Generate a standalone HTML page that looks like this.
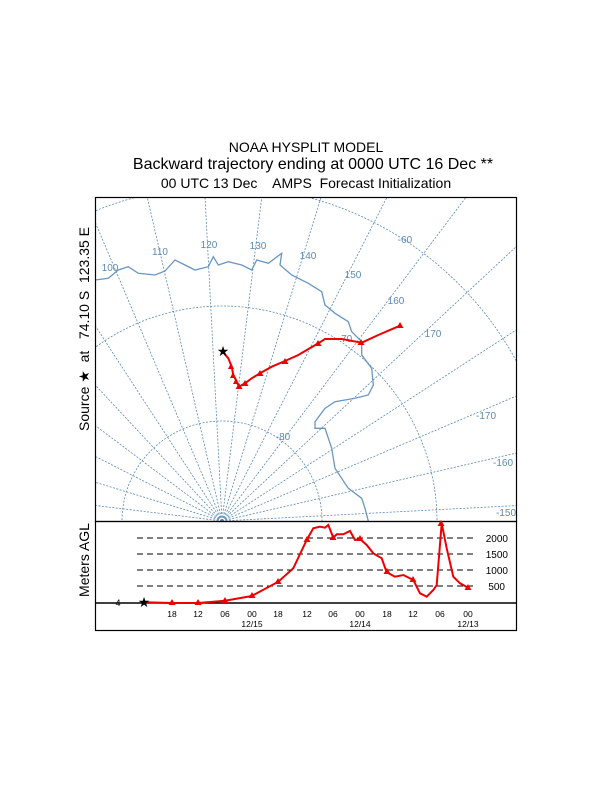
<!DOCTYPE html>
<html><head><meta charset="utf-8"><style>html,body{margin:0;padding:0;background:#fff;width:612px;height:792px;overflow:hidden}svg{display:block}</style></head>
<body>
<svg width="612" height="792" viewBox="0 0 612 792" xmlns="http://www.w3.org/2000/svg" font-family="Liberation Sans, sans-serif">
<defs>
<clipPath id="mc"><rect x="96" y="198" width="420" height="323"/></clipPath>
</defs>
<text x="306" y="152" font-size="14" text-anchor="middle">NOAA HYSPLIT MODEL</text>
<text x="313" y="169" font-size="16" text-anchor="middle">Backward trajectory ending at 0000 UTC 16 Dec **</text>
<text x="306" y="188" font-size="14" text-anchor="middle" xml:space="preserve">00 UTC 13 Dec    AMPS  Forecast Initialization</text>
<text transform="translate(89,329) rotate(-90)" font-size="14" text-anchor="middle" xml:space="preserve">Source ★  at   74.10 S  123.35 E</text>
<text transform="translate(89,560) rotate(-90)" font-size="14" text-anchor="middle">Meters AGL</text>

<g clip-path="url(#mc)" stroke="#5b8ab5" fill="none" stroke-width="0.8" stroke-dasharray="2,1.5">
<circle cx="222" cy="521" r="100"/><circle cx="222" cy="521" r="215"/><circle cx="222" cy="521" r="335"/><circle cx="222" cy="521" r="460"/>
<g>
<line x1="222" y1="521" x2="222" y2="-100" transform="rotate(-113 222 521)"/>
<line x1="222" y1="521" x2="222" y2="-100" transform="rotate(-103 222 521)"/>
<line x1="222" y1="521" x2="222" y2="-100" transform="rotate(-93 222 521)"/>
<line x1="222" y1="521" x2="222" y2="-100" transform="rotate(-83 222 521)"/>
<line x1="222" y1="521" x2="222" y2="-100" transform="rotate(-73 222 521)"/>
<line x1="222" y1="521" x2="222" y2="-100" transform="rotate(-63 222 521)"/>
<line x1="222" y1="521" x2="222" y2="-100" transform="rotate(-53 222 521)"/>
<line x1="222" y1="521" x2="222" y2="-100" transform="rotate(-43 222 521)"/>
<line x1="222" y1="521" x2="222" y2="-100" transform="rotate(-33 222 521)"/>
<line x1="222" y1="521" x2="222" y2="-100" transform="rotate(-23 222 521)"/>
<line x1="222" y1="521" x2="222" y2="-100" transform="rotate(-13 222 521)"/>
<line x1="222" y1="521" x2="222" y2="-100" transform="rotate(-3 222 521)"/>
<line x1="222" y1="521" x2="222" y2="-100" transform="rotate(7 222 521)"/>
<line x1="222" y1="521" x2="222" y2="-100" transform="rotate(17 222 521)"/>
<line x1="222" y1="521" x2="222" y2="-100" transform="rotate(27 222 521)"/>
<line x1="222" y1="521" x2="222" y2="-100" transform="rotate(37 222 521)"/>
<line x1="222" y1="521" x2="222" y2="-100" transform="rotate(47 222 521)"/>
<line x1="222" y1="521" x2="222" y2="-100" transform="rotate(57 222 521)"/>
<line x1="222" y1="521" x2="222" y2="-100" transform="rotate(67 222 521)"/>
<line x1="222" y1="521" x2="222" y2="-100" transform="rotate(77 222 521)"/>
<line x1="222" y1="521" x2="222" y2="-100" transform="rotate(87 222 521)"/>
<line x1="222" y1="521" x2="222" y2="-100" transform="rotate(97 222 521)"/>
<line x1="222" y1="521" x2="222" y2="-100" transform="rotate(107 222 521)"/>
</g>
<polyline stroke-dasharray="none" stroke-width="1.3" stroke="#6a96c0" points="95,280 108.3,278.3 118.3,270 128.3,266.7 138.3,273.3 155,275 165,271 175,260 185,265 195,270 208.3,266.7 213.3,256.7 218.3,265 228.3,261.7 241.7,265 251.7,270 256.7,260 268.3,263.3 281.7,253.3 280,265 291.7,275 308.3,283.3 321.7,291.7 325,305 335,313.3 348.3,321.7 351.7,331.7 361.7,341.7 361.7,355 371.7,368.3 373.3,385 368.3,395 355,398.3 335,401.7 325,408.3 315,421.7 315,428.3 325,428.3 331.7,448.3 335,468.3 348.3,488.3 361.7,498.3 365,508.3 368.3,521"/>
</g>
<g fill="#5b8ab5" font-size="10" text-anchor="middle">
<text x="110" y="271">100</text><text x="160" y="255">110</text><text x="209" y="248">120</text><text x="258" y="249">130</text><text x="308" y="259">140</text><text x="353" y="278">150</text><text x="396" y="304">160</text><text x="433" y="337">170</text><text x="405" y="243">-60</text><text x="345" y="342">-70</text><text x="283" y="440">-80</text><text x="486" y="419">-170</text><text x="503" y="466">-160</text><text x="506" y="516">-150</text>
</g>
<polyline fill="none" stroke="#e00" stroke-width="2" points="222.7,351.7 228.3,358.3 231.7,366.7 233.3,375 236.7,381.7 239,386.7 245,383.3 251.7,378.3 260,373.3 271.7,366.7 285,361 298.3,355 318.3,343.3 325,339 341.7,339 361.7,342.7 378.3,335 400,325.7"/>
<g fill="#e00">
<path d="M231,363l3,6h-6z"/><path d="M233,372l3,6h-6z"/><path d="M236,378l3,6h-6z"/><path d="M239,383l3.5,6h-7z"/><path d="M245,380l3.5,6h-7z"/><path d="M260,370l3.5,6h-7z"/><path d="M285,358l3.5,6h-7z"/><path d="M318,340l3.5,6h-7z"/><path d="M361,339l3.5,6h-7z"/><path d="M400,322l3.5,6h-7z"/>
</g>
<text x="223" y="356" font-size="14" text-anchor="middle">★</text>
<rect x="95.5" y="197.5" width="421" height="324" fill="none" stroke="#000" stroke-width="1.2"/>

<rect x="95.5" y="521.5" width="421" height="109" fill="none" stroke="#000" stroke-width="1.2"/>
<line x1="95" y1="603" x2="516" y2="603" stroke="#000" stroke-width="1.5"/>
<g stroke="#000" stroke-dasharray="6,4" stroke-width="0.9">
<line x1="137" y1="538" x2="476" y2="538"/><line x1="137" y1="554" x2="476" y2="554"/><line x1="137" y1="570" x2="476" y2="570"/><line x1="137" y1="586" x2="476" y2="586"/>
</g>
<g font-size="10" text-anchor="end"><text x="508" y="542">2000</text><text x="508" y="558">1500</text><text x="508" y="574">1000</text><text x="505" y="590">500</text></g>
<text x="118" y="606" font-size="9" text-anchor="middle">4</text>
<g font-size="8.5" text-anchor="middle">
<text x="172" y="617">18</text><text x="198" y="617">12</text><text x="225" y="617">06</text><text x="252" y="617">00</text><text x="278" y="617">18</text><text x="307" y="617">12</text><text x="333" y="617">06</text><text x="360" y="617">00</text><text x="387" y="617">18</text><text x="413" y="617">12</text><text x="440" y="617">06</text><text x="468" y="617">00</text>
<text x="252" y="627">12/15</text><text x="360" y="627">12/14</text><text x="468" y="627">12/13</text>
</g>
<polyline fill="none" stroke="#e00" stroke-width="2" points="144,602.3 171.7,603 198.3,603 225,600.7 251.7,596 278.3,581.7 293.3,568.3 306.7,540 313.3,528.3 320,526.7 325,527.7 328.3,525 333.3,537.7 336.7,534.3 343.3,534.3 350,531 355,540 360,539 366.7,545 373.3,553.3 381.7,558.3 386.7,572.3 395,576.7 403.3,575 413.3,580 420,593.3 426.7,596.7 433.3,590 436.7,585 441.7,523.3 446.7,548.3 453.3,576.7 460,583.3 468.3,587.7"/>
<g fill="#e00">
<path d="M172,599l3.5,6h-7z"/><path d="M198,599l3.5,6h-7z"/><path d="M225,597l3.5,6h-7z"/><path d="M252,592l3.5,6h-7z"/><path d="M278,578l3.5,6h-7z"/><path d="M307,536l3.5,6h-7z"/><path d="M333,534l3.5,6h-7z"/><path d="M360,535l3.5,6h-7z"/><path d="M387,568l3.5,6h-7z"/><path d="M413,576l3.5,6h-7z"/><path d="M441,520l3.5,6h-7z"/><path d="M468,584l3.5,6h-7z"/>
</g>
<text x="144" y="607" font-size="14" text-anchor="middle">★</text>
</svg>
</body></html>
